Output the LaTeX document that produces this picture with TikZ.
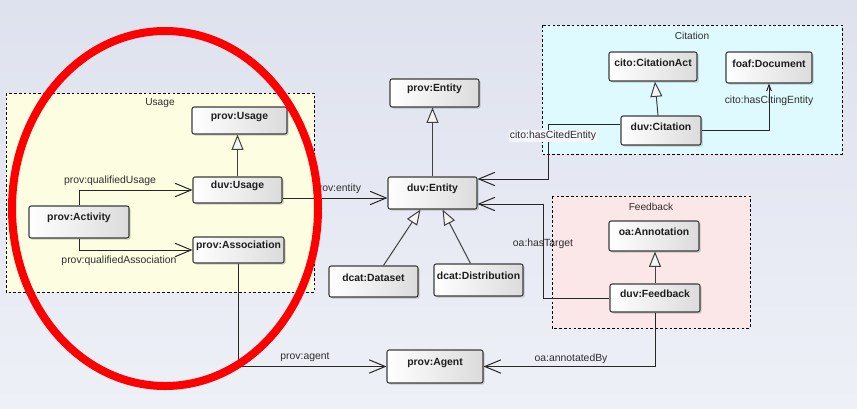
\documentclass[tikz,border=0pt]{standalone}
\usepackage{fontspec}
\setmainfont{Liberation Sans}
\usetikzlibrary{arrows.meta,shadows,fit,calc}

\definecolor{bgtop}{RGB}{222,226,238}
\definecolor{bgbot}{RGB}{238,240,247}
\definecolor{usagefill}{RGB}{253,253,226}
\definecolor{citefill}{RGB}{222,250,255}
\definecolor{feedfill}{RGB}{251,231,231}
\definecolor{boxline}{RGB}{60,60,60}
\definecolor{txt}{RGB}{30,30,30}
\definecolor{lbl}{RGB}{45,45,45}

\tikzset{
  box/.style={draw=boxline, line width=0.8pt, rounded corners=1.6pt,
    left color=white, right color=black!14, inner sep=0pt,
    drop shadow={shadow xshift=1.2pt, shadow yshift=-1.2pt, opacity=0.3, fill=black!60},
    font=\fontsize{7.8pt}{9pt}\selectfont\bfseries, text=txt},
  frame/.style={draw=black, line width=0.6pt, dash pattern=on 2pt off 1.6pt},
  frametitle/.style={font=\fontsize{7.6pt}{9pt}\selectfont, text=lbl},
  rel/.style={font=\fontsize{7.8pt}{9pt}\selectfont, text=lbl, inner sep=1pt},
  assoc/.style={draw=black!85, line width=0.75pt, -{Straight Barb[length=12pt, width=10pt, line width=0.75pt]}},
  smallassoc/.style={draw=black!85, line width=0.75pt, -{Straight Barb[length=4.5pt, width=3.5pt, line width=0.75pt]}},
  gen/.style={draw=black!75, line width=0.75pt, -{Triangle[open, fill=black!4, length=11.5pt, width=9pt, line width=0.75pt]}},
}

\begin{document}
\begin{tikzpicture}[x=0.75pt, y=-0.75pt]
  % canvas
  \shade[top color=bgtop, bottom color=bgbot] (0,0) rectangle (857,408);
  \useasboundingbox (0,0) rectangle (857,408);

  % packages
  \filldraw[frame, fill=usagefill] (6,93) rectangle (314,292);
  \node[frametitle] (tusage) at (160,103) {Usage};
  \filldraw[frame, fill=citefill] (542,25) rectangle (842,154);
  \node[frametitle] (tcite) at (692,36) {Citation};
  \filldraw[frame, fill=feedfill] (552,196) rectangle (750,328);
  \node[frametitle] (tfeed) at (651,207) {Feedback};

  % classes
  \node[box, fit={(192,107) (287,134)}] (pu) {prov:Usage};
  \node[box, fit={(193,177) (282,203)}] (du) {duv:Usage};
  \node[box, fit={(29,206) (129,238)}] (act) {prov:Activity};
  \node[box, fit={(193,237) (284,263)}] (pa) {prov:Association};

  \node[box, fit={(390,79) (479,107)}] (pe) {prov:Entity};
  \node[box, fit={(388,177) (477,209)}] (de) {duv:Entity};
  \node[box, fit={(329,266) (418,297)}] (ds) {dcat:Dataset};
  \node[box, fit={(434,264) (523,296)}] (dist) {dcat:Distribution};
  \node[box, fit={(387,350) (483,383)}] (ag) {prov:Agent};

  \node[box, fit={(609,52) (697,81)}] (ca) {cito:CitationAct};
  \node[box, fit={(726,52) (812,83)}] (doc) {foaf:Document};
  \node[box, fit={(621,116) (701,145)}] (cit) {duv:Citation};

  \node[box, fit={(609,221) (699,251)}] (ann) {oa:Annotation};
  \node[box, fit={(610,284) (700,312)}] (fb) {duv:Feedback};

  % generalisations
  \draw[gen] (du.north) -- (du.north |- pu.south);
  \draw[gen] (de.north) -- (de.north |- pe.south);
  \draw[gen] ($(ds.north)+(10,0)$) -- ($(de.south)+(-12,0)$);
  \draw[gen] ($(dist.north)+(-8,0)$) -- ($(de.south)+(10,0)$);
  \draw[gen] ($(cit.north)+(-3,0)$) -- ($(ca.south)+(2,0)$);
  \draw[gen] (fb.north) -- (fb.north |- ann.south);

  % associations
  \draw[assoc] (act.north) |- (du.west);
  \draw[assoc] (act.south) |- (pa.west);
  \draw[assoc] ($(du.east)+(0,8)$) -- ($(de.west)+(0,5)$);
  \draw[assoc] (pa.south) |- (ag.west);
  \draw[assoc] (fb.south) |- (ag.east);
  \draw[assoc] (fb.west) -- ($(fb.west)+(-66,0)$) |- ($(de.east)+(0,11)$);
  \draw[assoc] ($(cit.west)+(0,-6)$) -- ($(cit.west)+(-72,-6)$) |- ($(de.east)+(0,-14)$);
  \draw[smallassoc] (cit.east) -| (doc.south);

  % role names
  \node[rel] (lqu) at (110,181) {prov:qualifiedUsage};
  \node[rel] (lqa) at (119,261) {prov:qualifiedAssociation};
  \node[rel] (lent) at (337,189) {prov:entity};
  \node[rel] (lagt) at (305,357) {prov:agent};
  \node[rel] (lann) at (571,359) {oa:annotatedBy};
  \node[rel] (ltgt) at (543,244) {oa:hasTarget};
  \node[rel, fill=bgbot!60!white] (lced) at (553,136) {cito:hasCitedEntity};
  \node[rel] (lcing) at (769,101) {cito:hasCitingEntity};

  % highlight
  \draw[red, line width=6pt] (165,208.5) ellipse [x radius=153, y radius=177.5];
\end{tikzpicture}
\end{document}
